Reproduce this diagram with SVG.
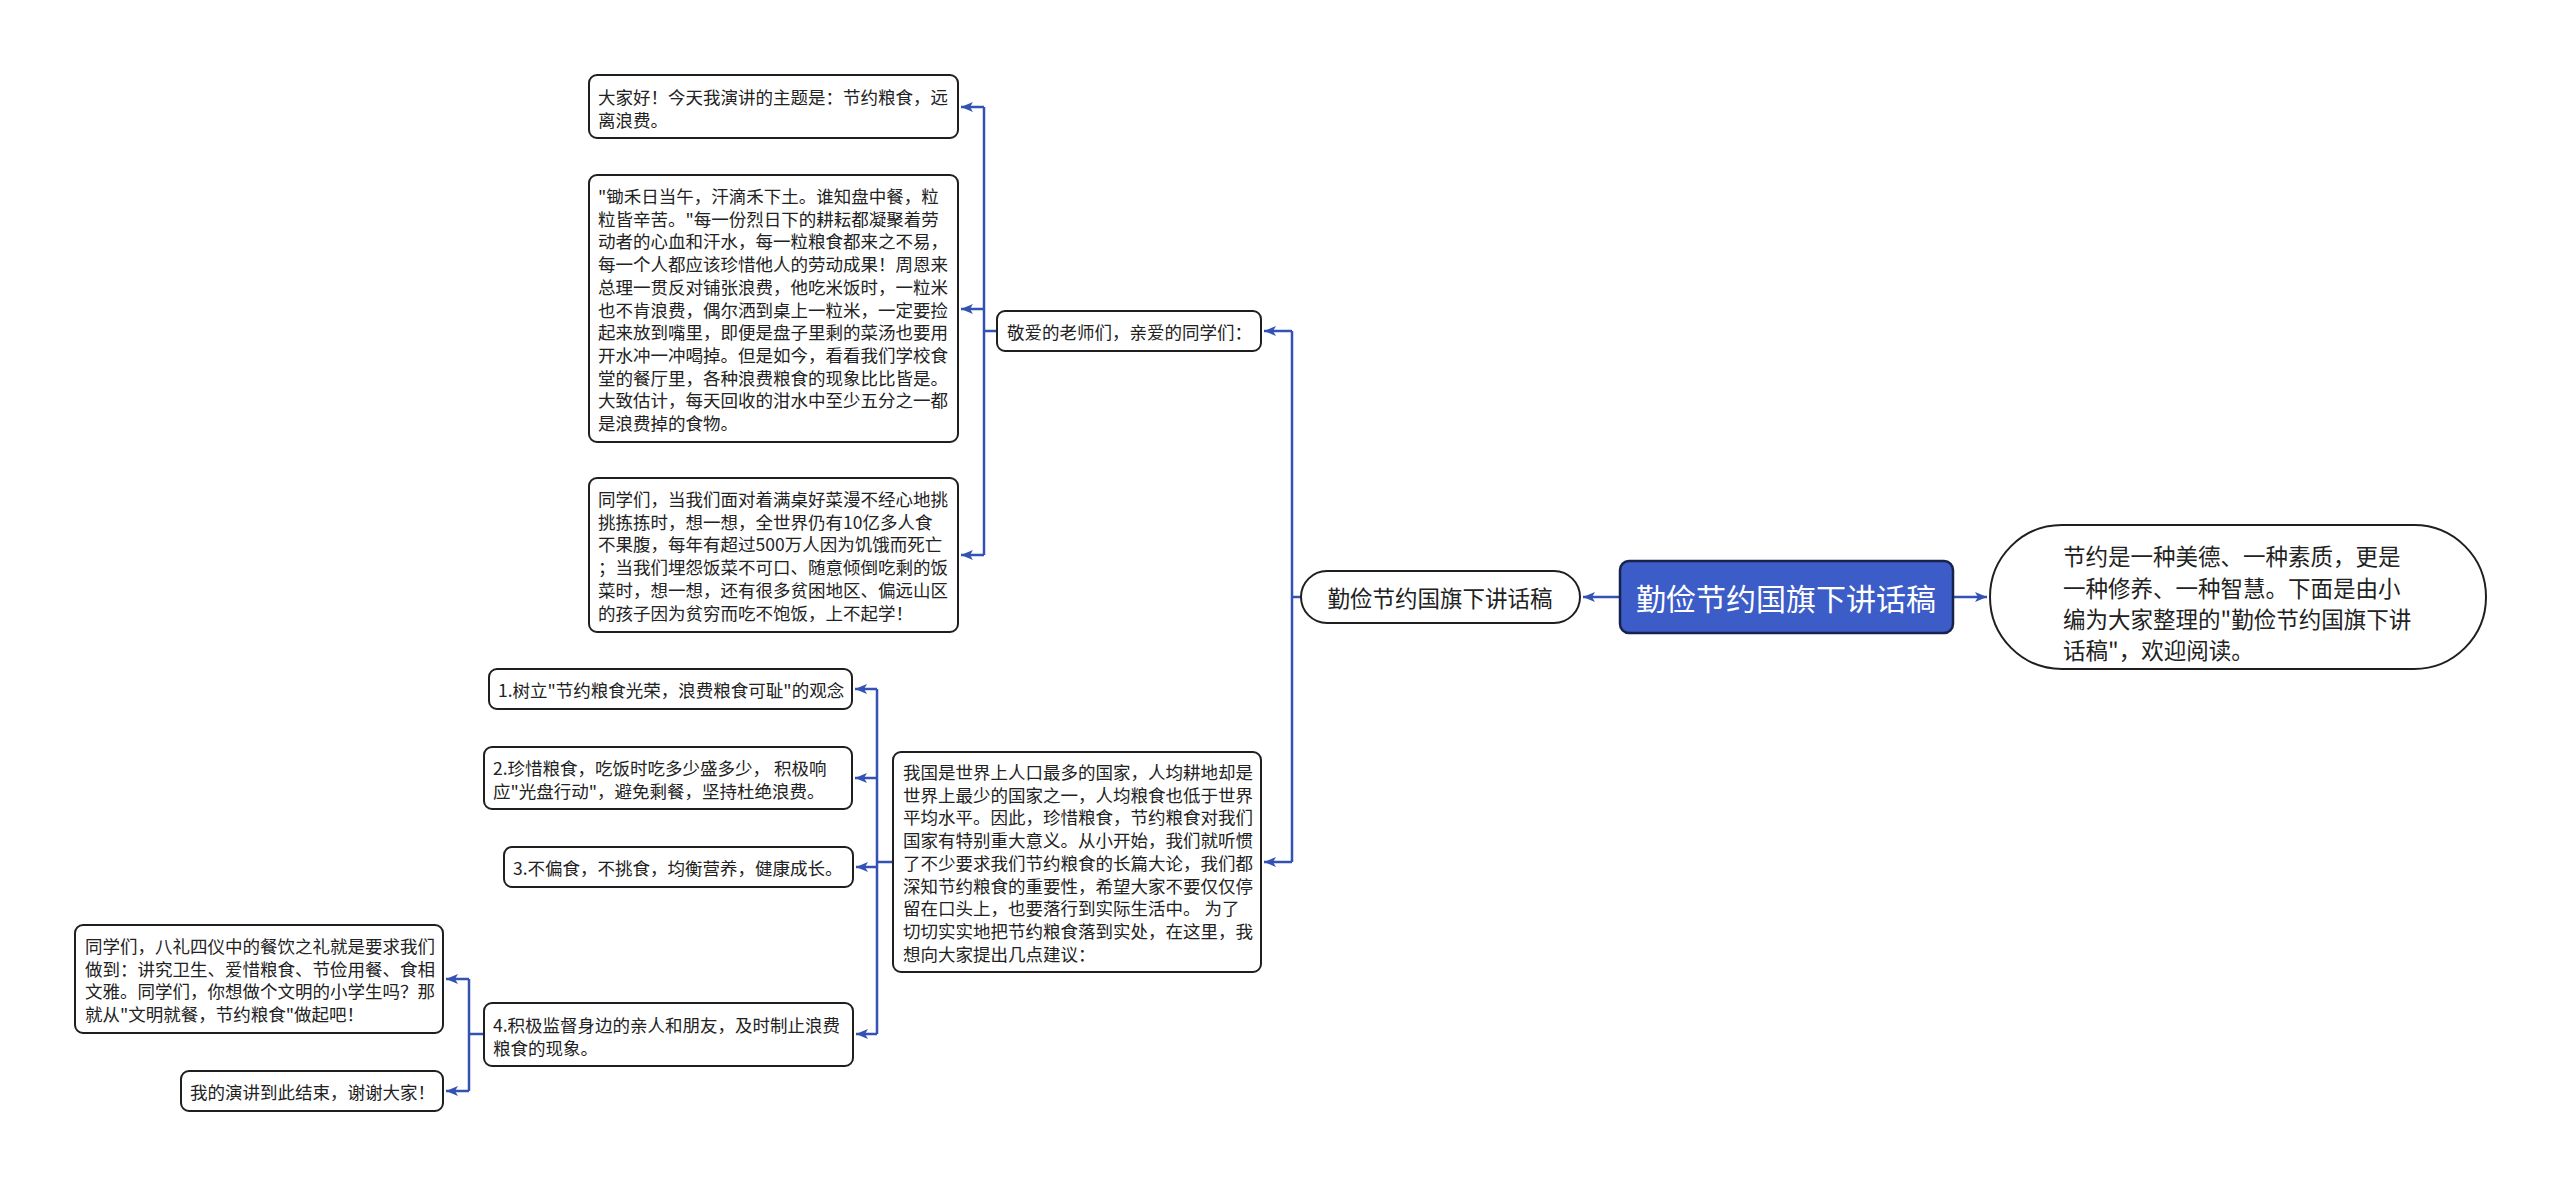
<svg xmlns="http://www.w3.org/2000/svg" width="2560" height="1186" viewBox="0 0 2560 1186">
<style>
text{font-family:"Noto Sans CJK SC","Noto Sans",sans-serif;fill:#222;dominant-baseline:central}
.n{fill:#fff;stroke:#1f1f1f;stroke-width:2}
.t{font-size:17.5px}
.c{fill:none;stroke:#3352b3;stroke-width:2.5}
</style>
<defs>
<marker id="ah" markerUnits="userSpaceOnUse" markerWidth="14" markerHeight="12" refX="12" refY="6" orient="auto">
<path d="M0,1 L12,6 L0,11 L3,6 Z" fill="#3352b3"/>
</marker>
</defs>
<rect width="2560" height="1186" fill="#fff"/>
<g id="connectors">
<path class="c" d="M1620,597 L1583,597" marker-end="url(#ah)"/>
<path class="c" d="M1953,597 L1987,597" marker-end="url(#ah)"/>
<path class="c" d="M1301,597 L1292,597"/>
<path class="c" d="M1292,331 L1292,862"/>
<path class="c" d="M1292,331 L1264,331" marker-end="url(#ah)"/>
<path class="c" d="M1292,862 L1264,862" marker-end="url(#ah)"/>
<path class="c" d="M997,331 L984,331"/>
<path class="c" d="M984,107 L984,555"/>
<path class="c" d="M984,107 L961,107" marker-end="url(#ah)"/>
<path class="c" d="M984,309 L961,309" marker-end="url(#ah)"/>
<path class="c" d="M984,555 L961,555" marker-end="url(#ah)"/>
<path class="c" d="M893,862 L877,862"/>
<path class="c" d="M877,689 L877,1034"/>
<path class="c" d="M877,689 L855,689" marker-end="url(#ah)"/>
<path class="c" d="M877,778 L855,778" marker-end="url(#ah)"/>
<path class="c" d="M877,867 L856,867" marker-end="url(#ah)"/>
<path class="c" d="M877,1034 L856,1034" marker-end="url(#ah)"/>
<path class="c" d="M484,1034 L469,1034"/>
<path class="c" d="M469,979 L469,1091"/>
<path class="c" d="M469,979 L446,979" marker-end="url(#ah)"/>
<path class="c" d="M469,1091 L446,1091" marker-end="url(#ah)"/>
</g>
<g id="root">
<rect x="1620" y="561" width="333" height="72" rx="9" fill="#3c5dc8" stroke="#17224d" stroke-width="2.5"/>
<text x="1786" y="597" text-anchor="middle" style="font-size:30px;fill:#fff">勤俭节约国旗下讲话稿</text>
</g>
<g id="intro">
<rect class="n" x="1990" y="525" width="496" height="144" rx="72" stroke-width="2.5"/>
<text style="font-size:22.5px"><tspan x="2063" y="555">节约是一种美德、一种素质，更是</tspan><tspan x="2063" y="587">一种修养、一种智慧。下面是由小</tspan><tspan x="2063" y="618">编为大家整理的"勤俭节约国旗下讲</tspan><tspan x="2063" y="649">话稿"，欢迎阅读。</tspan></text>
</g>
<g id="l1">
<rect class="n" x="1301" y="571" width="279" height="52" rx="26" stroke-width="2.5"/>
<text x="1440" y="597" text-anchor="middle" style="font-size:22.5px">勤俭节约国旗下讲话稿</text>
</g>
<g id="greeting">
<rect class="n" x="997" y="311" width="264" height="40" rx="8"/>
<text class="t" x="1007" y="331">敬爱的老师们，亲爱的同学们：</text>
</g>
<g id="a1">
<rect class="n" x="589" y="75" width="369" height="63" rx="8"/>
<text class="t"><tspan x="598" y="96">大家好！今天我演讲的主题是：节约粮食，远</tspan><tspan x="598" y="118.7">离浪费。</tspan></text>
</g>
<g id="a2">
<rect class="n" x="589" y="175" width="369" height="267" rx="8"/>
<text class="t"><tspan x="598" y="195">"锄禾日当午，汗滴禾下土。谁知盘中餐，粒</tspan><tspan x="598" y="217.7">粒皆辛苦。"每一份烈日下的耕耘都凝聚着劳</tspan><tspan x="598" y="240.4">动者的心血和汗水，每一粒粮食都来之不易，</tspan><tspan x="598" y="263.1">每一个人都应该珍惜他人的劳动成果！周恩来</tspan><tspan x="598" y="285.8">总理一贯反对铺张浪费，他吃米饭时，一粒米</tspan><tspan x="598" y="308.5">也不肯浪费，偶尔洒到桌上一粒米，一定要捡</tspan><tspan x="598" y="331.2">起来放到嘴里，即便是盘子里剩的菜汤也要用</tspan><tspan x="598" y="353.9">开水冲一冲喝掉。但是如今，看看我们学校食</tspan><tspan x="598" y="376.6">堂的餐厅里，各种浪费粮食的现象比比皆是。</tspan><tspan x="598" y="399.3">大致估计，每天回收的泔水中至少五分之一都</tspan><tspan x="598" y="422">是浪费掉的食物。</tspan></text>
</g>
<g id="a3">
<rect class="n" x="589" y="478" width="369" height="154" rx="8"/>
<text class="t"><tspan x="598" y="498">同学们，当我们面对着满桌好菜漫不经心地挑</tspan><tspan x="598" y="520.7">挑拣拣时，想一想，全世界仍有10亿多人食</tspan><tspan x="598" y="543.4">不果腹，每年有超过500万人因为饥饿而死亡</tspan><tspan x="598" y="566.1">；当我们埋怨饭菜不可口、随意倾倒吃剩的饭</tspan><tspan x="598" y="588.8">菜时，想一想，还有很多贫困地区、偏远山区</tspan><tspan x="598" y="611.5">的孩子因为贫穷而吃不饱饭，上不起学！</tspan></text>
</g>
<g id="body">
<rect class="n" x="893" y="752" width="368" height="220" rx="8"/>
<text class="t"><tspan x="903" y="771">我国是世界上人口最多的国家，人均耕地却是</tspan><tspan x="903" y="793.7">世界上最少的国家之一，人均粮食也低于世界</tspan><tspan x="903" y="816.4">平均水平。因此，珍惜粮食，节约粮食对我们</tspan><tspan x="903" y="839.1">国家有特别重大意义。从小开始，我们就听惯</tspan><tspan x="903" y="861.8">了不少要求我们节约粮食的长篇大论，我们都</tspan><tspan x="903" y="884.5">深知节约粮食的重要性，希望大家不要仅仅停</tspan><tspan x="903" y="907.2">留在口头上，也要落行到实际生活中。 为了</tspan><tspan x="903" y="929.9">切切实实地把节约粮食落到实处，在这里，我</tspan><tspan x="903" y="952.6">想向大家提出几点建议：</tspan></text>
</g>
<g id="s1">
<rect class="n" x="489" y="669" width="363" height="40" rx="8"/>
<text class="t" x="498" y="689">1.树立"节约粮食光荣，浪费粮食可耻"的观念</text>
</g>
<g id="s2">
<rect class="n" x="484" y="747" width="368" height="62" rx="8"/>
<text class="t"><tspan x="493" y="767">2.珍惜粮食，吃饭时吃多少盛多少， 积极响</tspan><tspan x="493" y="789.7">应"光盘行动"，避免剩餐，坚持杜绝浪费。</tspan></text>
</g>
<g id="s3">
<rect class="n" x="504" y="847" width="349" height="40" rx="8"/>
<text class="t" x="513" y="867">3.不偏食，不挑食，均衡营养，健康成长。</text>
</g>
<g id="s4">
<rect class="n" x="484" y="1003" width="369" height="63" rx="8"/>
<text class="t"><tspan x="493" y="1024">4.积极监督身边的亲人和朋友，及时制止浪费</tspan><tspan x="493" y="1046.7">粮食的现象。</tspan></text>
</g>
<g id="g1">
<rect class="n" x="75" y="925" width="368" height="108" rx="8"/>
<text class="t"><tspan x="85" y="945">同学们，八礼四仪中的餐饮之礼就是要求我们</tspan><tspan x="85" y="967.7">做到：讲究卫生、爱惜粮食、节俭用餐、食相</tspan><tspan x="85" y="990.4">文雅。同学们，你想做个文明的小学生吗？那</tspan><tspan x="85" y="1013.1">就从"文明就餐，节约粮食"做起吧！</tspan></text>
</g>
<g id="g2">
<rect class="n" x="181" y="1071" width="262" height="40" rx="8"/>
<text class="t" x="190" y="1091">我的演讲到此结束，谢谢大家！</text>
</g>
</svg>
